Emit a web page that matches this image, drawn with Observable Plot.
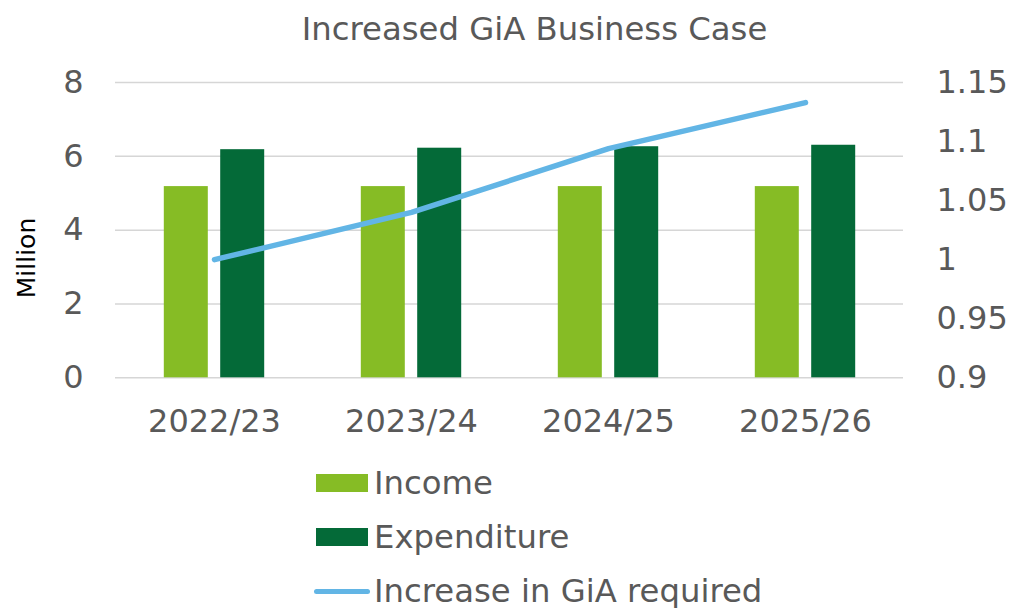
<!DOCTYPE html>
<html>
<head>
<meta charset="utf-8">
<script src="https://cdn.jsdelivr.net/npm/d3@7"></script>
<script src="https://cdn.jsdelivr.net/npm/@observablehq/plot@0.6"></script>
<style>
  html, body { margin: 0; padding: 0; background: #fff; }
  body { width: 1009px; height: 608px; overflow: hidden; font-family: "DejaVu Sans", Verdana, sans-serif; color: #595959; }
  #title { height: 60px; position: relative; }
  #title span { position: absolute; left: 0; width: 1069px; text-align: center; top: 13px; font-size: 32.3px; line-height: 32px; white-space: nowrap; }
  #chart { position: relative; height: 395px; }
  #ylabel { position: absolute; left: 26px; top: 198px; transform: translate(-50%, -50%) rotate(-90deg); font-size: 25px; color: #000; white-space: nowrap; }
  #legend { padding-top: 1px; }
  .row { height: 54px; display: flex; align-items: center; font-size: 32.3px; }
  .sw { width: 52px; height: 18px; margin-left: 316px; margin-right: 6px; }
  .ln { width: 56px; height: 5px; border-radius: 3px; margin-left: 314px; margin-right: 4px; }
</style>
</head>
<body>
<div id="title"><span>Increased GiA Business Case</span></div>
<div id="chart"><div id="ylabel">Million</div></div>
<div id="legend"></div>
<script>
const years = ["2022/23", "2023/24", "2024/25", "2025/26"];
const income = [5.18, 5.18, 5.18, 5.18];
const expenditure = [6.18, 6.22, 6.26, 6.30];
const giaIncrease = [1.000, 1.040, 1.094, 1.133];
const leftTicks = [0, 2, 4, 6, 8];
const rightTicks = [0.9, 0.95, 1, 1.05, 1.1, 1.15];
const rightTickLabels = ["0.9", "0.95", "1", "1.05", "1.1", "1.15"];
const seriesNames = ["Income", "Expenditure", "Increase in GiA required"];
const colors = ["#86bc25", "#046a38", "#62b5e5"];

// secondary axis mapping (0.9..1.15) -> (0..8)
const rMin = 0.9, rMax = 1.15, lMax = 8;
const toLeft = v => (v - rMin) / (rMax - rMin) * lMax;

const incomeData = years.map((y, i) => ({year: y, value: income[i]}));
const expData = years.map((y, i) => ({year: y, value: expenditure[i]}));
const lineData = years.map((y, i) => ({year: y, value: toLeft(giaIncrease[i])}));

const plot = Plot.plot({
  width: 1009,
  height: 395,
  marginTop: 22,
  marginBottom: 77.7,
  marginLeft: 115,
  marginRight: 106,
  style: {fontFamily: "DejaVu Sans, Verdana, sans-serif", fontSize: "32px", color: "#595959", background: "transparent"},
  x: {domain: years, paddingInner: 0.777, paddingOuter: 0.3885, label: null},
  y: {domain: [0, 8], label: null},
  marks: [
    Plot.gridY(leftTicks, {stroke: "#d6d6d6", strokeOpacity: 1, strokeWidth: 1.5}),
    Plot.barY(incomeData, {x: "year", y: "value", fill: colors[0], dx: -28.2}),
    Plot.barY(expData, {x: "year", y: "value", fill: colors[1], dx: 28.2}),
    Plot.lineY(lineData, {x: "year", y: "value", stroke: colors[2], strokeWidth: 5.5, strokeLinecap: "round", strokeLinejoin: "round"}),
    Plot.axisX({tickSize: 0, tickPadding: 31.5, fontSize: 32}),
    Plot.axisY({anchor: "left", ticks: leftTicks, tickSize: 0, tickPadding: 32, fontSize: 32, label: null}),
    Plot.axisY({anchor: "right", ticks: rightTicks.map(toLeft), tickSize: 0, tickPadding: 33, fontSize: 32, label: null,
      tickFormat: (d) => rightTickLabels[rightTicks.map(toLeft).findIndex(t => Math.abs(t - d) < 1e-6)]})
  ]
});
document.getElementById("chart").appendChild(plot);

const legend = document.getElementById("legend");
seriesNames.forEach((name, i) => {
  const row = document.createElement("div");
  row.className = "row";
  const sw = document.createElement("div");
  sw.className = i < 2 ? "sw" : "ln";
  sw.style.background = colors[i];
  const label = document.createElement("span");
  label.textContent = name;
  row.appendChild(sw);
  row.appendChild(label);
  legend.appendChild(row);
});
</script>
</body>
</html>
